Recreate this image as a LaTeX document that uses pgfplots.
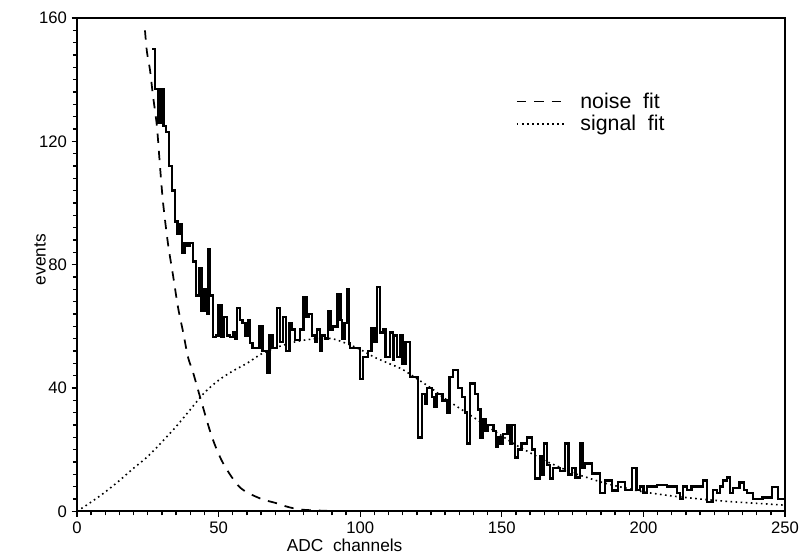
\documentclass[border=0pt]{standalone}
\usepackage{pgfplots}
\pgfplotsset{compat=1.18}
\usepackage{fontspec}
\setmainfont{Liberation Sans}

% measured spectrum, bin left edges
\pgfplotstableread{
x y
26.5 150
27.5 137
28.5 126
29.5 137
30.5 125
31.5 123
32.5 112
33.5 104
34.5 94
35.5 90
36.5 93
37 84
38 87
39 86
40 87
41 81
42 70
43 79
44 65
45 72
46 64
46.5 85
47 70
48 56.5
49 57
50 67
51 56.5
52 63
53 57
54 56.5
55 58
56 56
56.5 66
57.5 62
58.5 61
59.5 57
60.5 62
61 54.5
62 53
63 53
64.5 60
65.5 52
67 45
68 57
69 53
70.6 66
71.7 55
72.7 63
73.7 52
75 61
76 59
77 55.5
78.7 59
80 69.5
81 63
82 64
83 57
84 55
84.7 59
85.7 52
86.5 57
87.5 56
88.6 65
89.5 59
90.4 60
92 70.5
93 62
93.6 56
94.5 61
95.3 72
96 54.5
96.4 53
97.5 53
100 43
101 50
102.8 52
104 59.5
105 55
106 72.7
107 58
108 59
109 50
110.5 58
111.5 49
112 57
113 50
114 57
115 48
116 55
117.6 43.5
120.4 24
121.8 38
122.8 35
123.6 40
125.4 37
126.2 34
127 38
129 36
130.6 32
131.5 43.5
132.8 45.8
134.5 40
136 37
137 32
137.7 22
138.8 41.5
140.5 38
141.6 33
142.5 24
143.4 30
144.2 26
145 28
147 26
148 21
148.7 24
149.5 22
150.4 25
152 28
153 22
153.5 28
154.7 17.5
155.7 20
157 22
159 24
160.7 20
161.7 10.7
163.5 18
164.3 12
165 22
166 15
167 10.7
168 14
170.5 13
172.3 22
173.5 12
174.8 14
176 11
177.6 22
178.5 14
179.4 15.5
181.8 12.3
184.7 6
186.4 10
189 6.8
191 9.5
193.5 7
196 14
197.5 7
198.8 8
200 6
201.3 8
204.8 8.5
208.3 8
211.9 6
213 4
214 8
215.4 7
217 8
221 10
222.5 3
224.6 7
226 6
227 8
228 10
229.5 11
230.5 6
231.6 7.5
234 9.4
235.5 7
236.6 6
238.7 4
242 4.5
245.4 7.8
247.5 4
250 4
}\spectrum

\pgfplotstableread{
x y
24 156
24.7 149
25.8 143
26.8 135
28.2 125
29.3 112
30.4 100
32.1 87
34 76
35.7 66
37.5 58
39.2 50
41 45
44.1 35
47.7 24
51.6 15.6
57.5 7.8
64.6 4.2
70.6 2.6
75 1.3
80 0.5
90 0.1
}\noisefit

\pgfplotstableread{
x y
0 0
5 3
10 6.3
15 10
20 14
25 17.8
30 22.5
35 27.5
40 33
45 38.5
50 42.5
55 45.5
60 48
65 51
70 53
75 54.5
80 55.5
85 56
90 56
95 54.5
100 52.5
105 50
110 48
115 46
120 43
125 40
130 36.5
135 33.5
140 30.5
145 27.5
150 24.5
155 21.5
160 19
165 16.5
170 14.5
175 12.5
180 11
185 9.5
190 8.3
195 7.3
200 6.3
210 5
220 4
230 3.2
240 2.6
250 2
}\signalfit

\begin{document}
\begin{tikzpicture}
\begin{axis}[
  scale only axis,
  width=531pt, height=370pt,
  xmin=0, xmax=250, ymin=0, ymax=160,
  xtick={0,50,...,250}, ytick={0,40,...,160},
  minor x tick num=9, minor y tick num=9,
  tick pos=left, tick align=outside,
  major tick length=4pt, minor tick length=3pt,
  every tick/.style={black, line width=1pt},
  axis line style={line width=1.5pt},
  /pgf/number format/assume math mode=true,
  ticklabel style={font=\fontsize{12.5}{14}\selectfont},
  xlabel={ADC\ \ channels}, ylabel={events},
  label style={font=\fontsize{13}{15}\selectfont},
  xlabel style={at={(axis description cs:0.378,-0.069)}, anchor=center},
  ylabel style={at={(axis description cs:-0.052,0.51)}, anchor=center},
  legend style={draw=none, fill=none, at={(0.614,0.86)}, anchor=north west,
    font=\fontsize{16}{18}\selectfont, row sep=0pt, column sep=8pt},
  legend cell align=left,
  legend image code/.code={\draw[#1] (0pt,0pt) -- (37pt,0pt);},
]
\addplot[black, line width=1.8pt, const plot mark left, forget plot] table {\spectrum};
\addplot[black, line width=1.3pt, smooth, dash pattern=on 7pt off 6pt] table {\noisefit};
\addlegendentry{noise\ \ fit}
\addplot[black, line width=1.2pt, smooth, dash pattern=on 1.2pt off 2.6pt] table {\signalfit};
\addlegendentry{signal\ \ fit}
\end{axis}
\path ([xshift=-57.75pt,yshift=-33.75pt]current axis.south west) rectangle ([xshift=15pt,yshift=13.5pt]current axis.north east);
\end{tikzpicture}
\end{document}
